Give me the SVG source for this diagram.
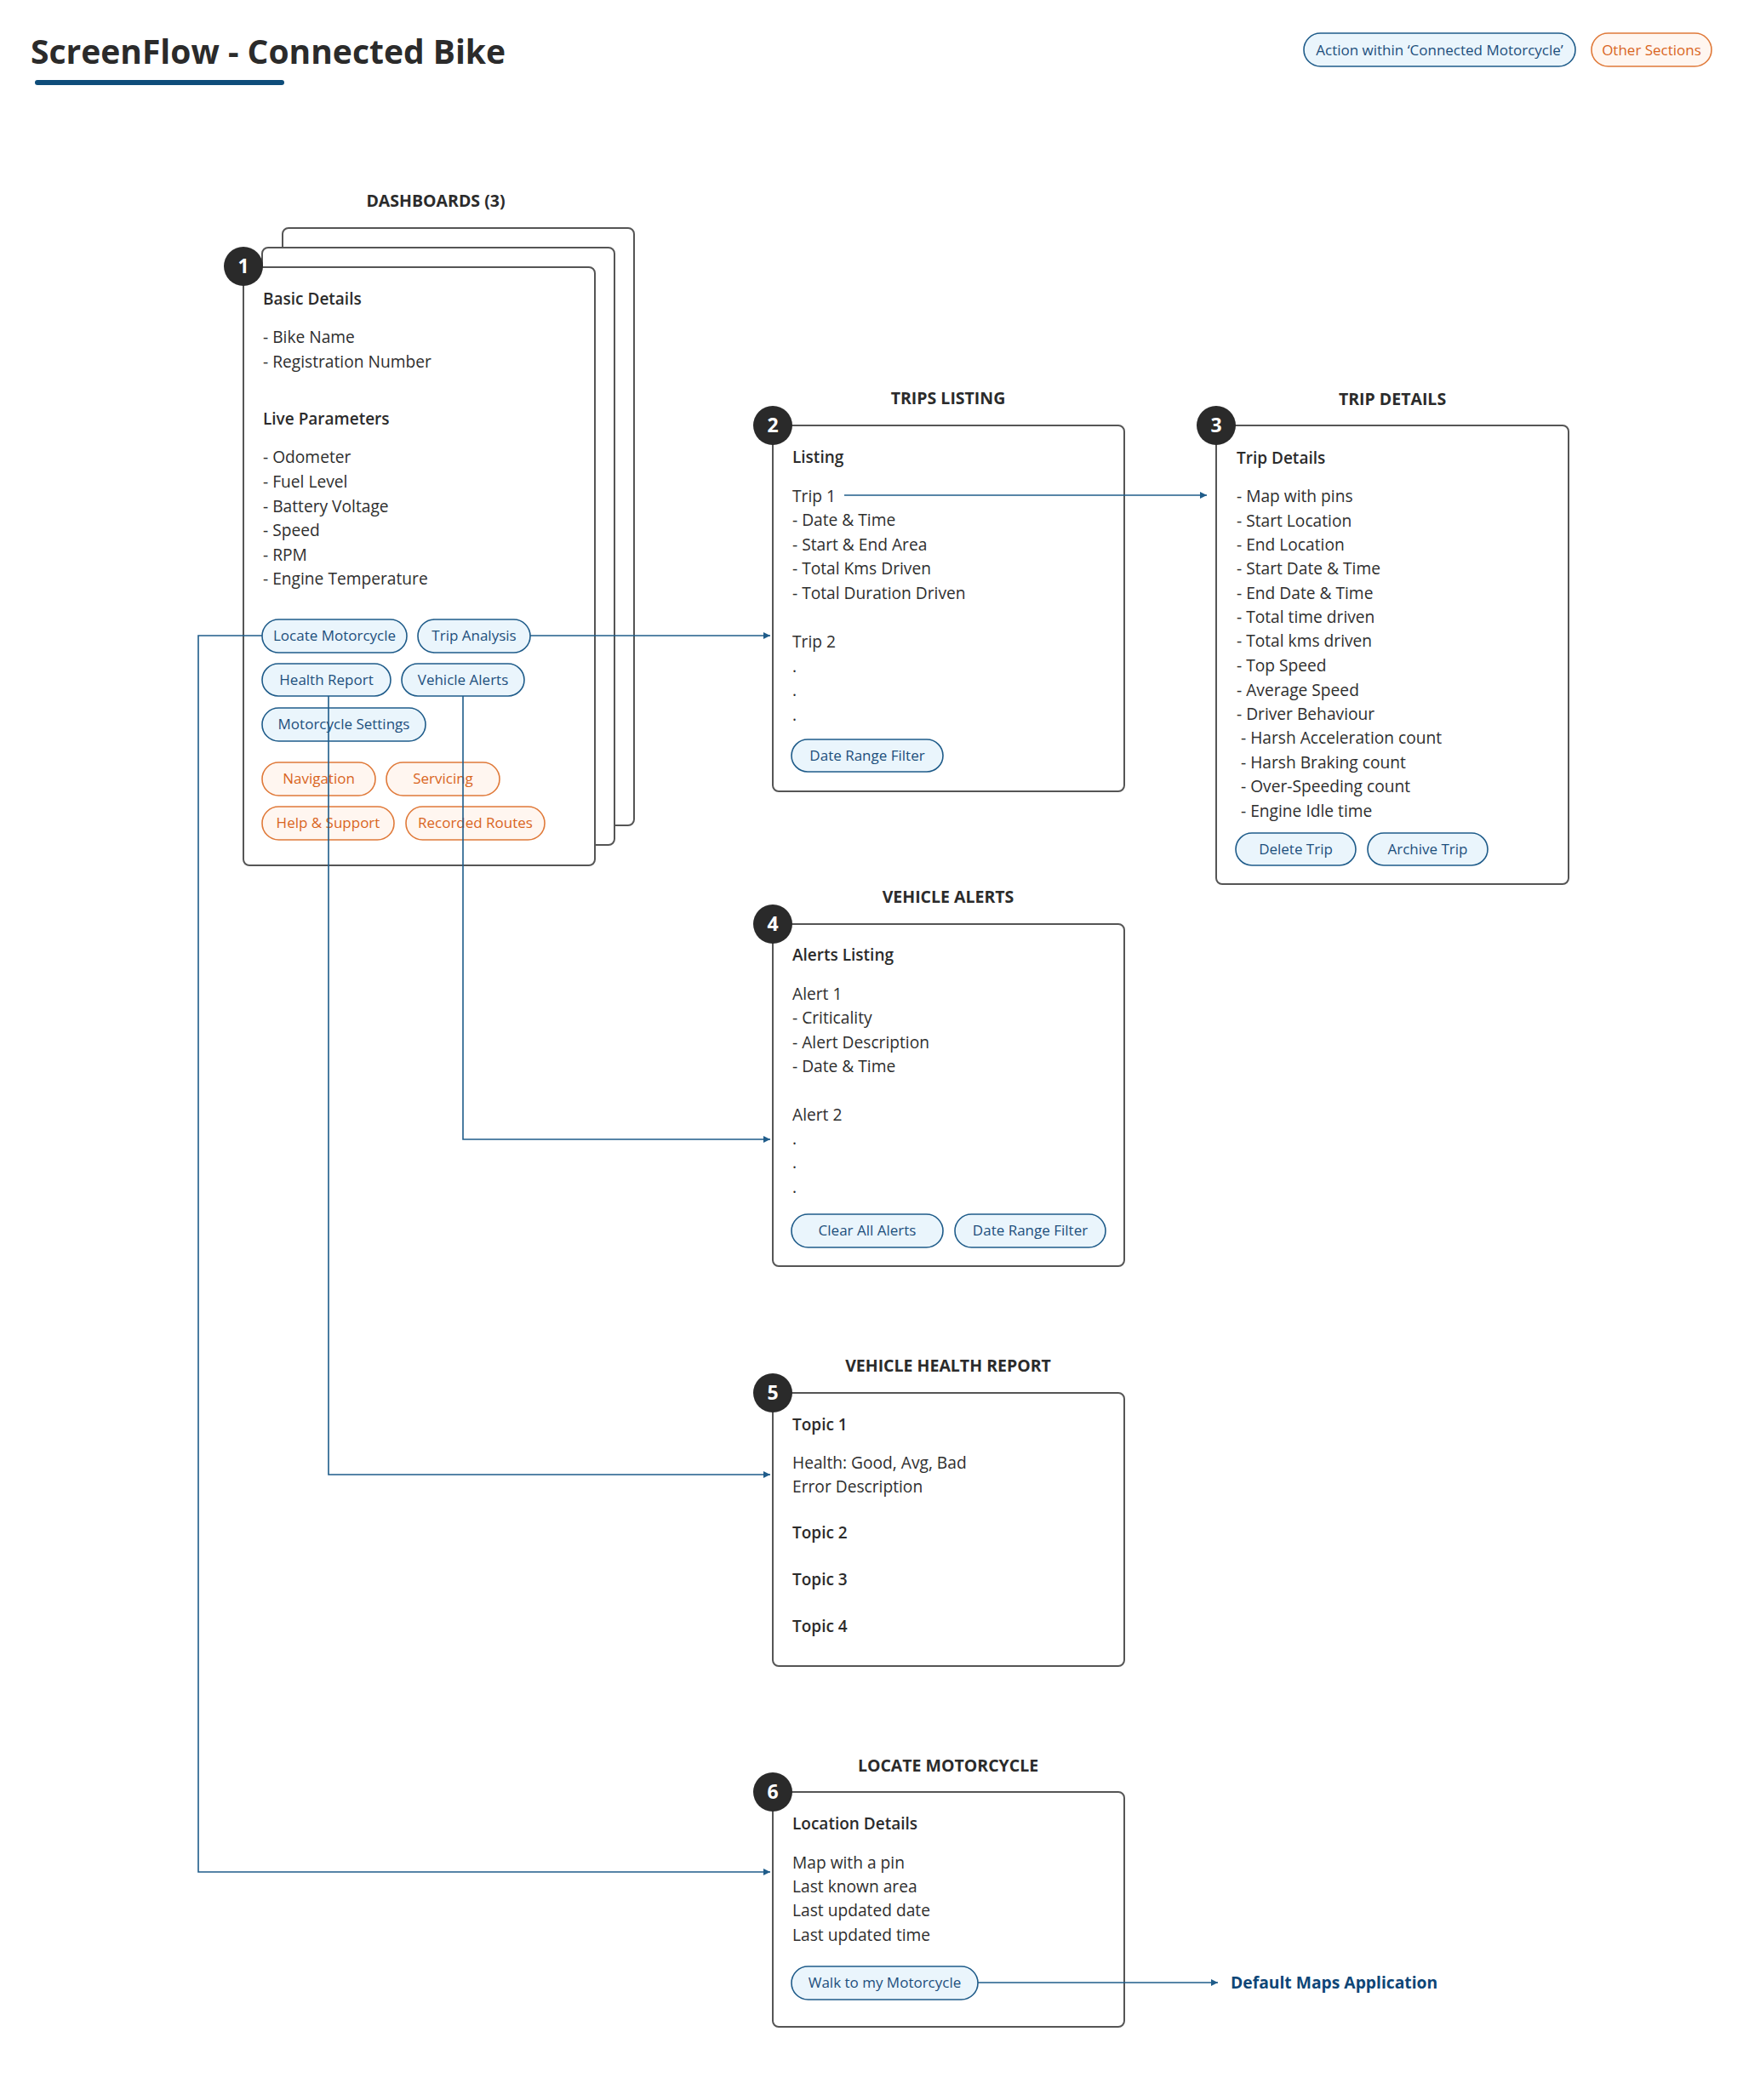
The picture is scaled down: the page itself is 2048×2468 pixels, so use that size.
<svg xmlns="http://www.w3.org/2000/svg" width="2048" height="2468" viewBox="0 0 2048 2468">
<defs>
<marker id="arr" markerUnits="userSpaceOnUse" markerWidth="10" markerHeight="8" refX="8" refY="4" orient="auto">
<path d="M0,0 L8,4 L0,8 Z" fill="#1f5c8a"/>
</marker>
<style>
text{font-family:"Open Sans","Noto Sans","Liberation Sans",sans-serif;fill:#333333}
.title{font-size:39px;font-weight:700;fill:#2b2b2b}
.sec{font-size:19.5px;font-weight:700;fill:#2b2b2b;text-anchor:middle}
.h{font-size:19px;font-weight:600;fill:#2b2b2b}
.t{font-size:19.2px;font-weight:400;fill:#2e2e2e}
.card{fill:#ffffff;stroke:#555555;stroke-width:2}
.badge{fill:#2a2a2a}
.bn{font-size:23px;font-weight:700;fill:#ffffff;text-anchor:middle}
.bb{fill:#eaf5fc;stroke:#1f5c8a;stroke-width:1.6}
.bo{fill:#fff6f0;stroke:#e07a3a;stroke-width:1.6}
.btb{font-size:17px;fill:#1d4f7c;text-anchor:middle}
.bto{font-size:17px;fill:#d9651e;text-anchor:middle}
.conn{fill:none;stroke:#1f5c8a;stroke-width:1.6}
.ext{font-size:19.3px;font-weight:700;fill:#0e4677}
</style>
</defs>
<rect width="2048" height="2468" fill="#ffffff"/>

<g id="header">
<text class="title" x="36" y="75">ScreenFlow - Connected Bike</text>
<line x1="44" y1="97" x2="331" y2="97" stroke="#0e4d7a" stroke-width="6" stroke-linecap="round"/>
</g>

<g id="legend">
<rect class="bb" x="1532" y="39" width="319" height="39" rx="19.5"/>
<text class="btb" x="1691.5" y="65">Action within ‘Connected Motorcycle’</text>
<rect class="bo" x="1870" y="39" width="141" height="39" rx="19.5"/>
<text class="bto" x="1940.5" y="65">Other Sections</text>
</g>

<g id="node1">
<text class="sec" x="512" y="243">DASHBOARDS (3)</text>
<rect class="card" x="332" y="268" width="413" height="702" rx="7"/>
<rect class="card" x="308" y="291" width="414" height="702" rx="7"/>
<rect class="card" x="286" y="314" width="413" height="703" rx="7"/>
<circle class="badge" cx="286" cy="313" r="23"/>
<text class="bn" x="286" y="321">1</text>
<text class="h" x="309" y="358">Basic Details</text>
<text class="t" x="309" y="403">- Bike Name</text>
<text class="t" x="309" y="432">- Registration Number</text>
<text class="h" x="309" y="499">Live Parameters</text>
<text class="t" x="309" y="544">- Odometer</text>
<text class="t" x="309" y="573">- Fuel Level</text>
<text class="t" x="309" y="602">- Battery Voltage</text>
<text class="t" x="309" y="630">- Speed</text>
<text class="t" x="309" y="659">- RPM</text>
<text class="t" x="309" y="687">- Engine Temperature</text>
<rect class="bb" x="308" y="728" width="170" height="39" rx="19.5"/>
<text class="btb" x="393" y="753">Locate Motorcycle</text>
<rect class="bb" x="491" y="728" width="132" height="39" rx="19.5"/>
<text class="btb" x="557" y="753">Trip Analysis</text>
<rect class="bb" x="308" y="780" width="151" height="38" rx="19"/>
<text class="btb" x="383.5" y="805">Health Report</text>
<rect class="bb" x="472" y="780" width="144" height="38" rx="19"/>
<text class="btb" x="544" y="805">Vehicle Alerts</text>
<rect class="bb" x="308" y="832" width="192" height="39" rx="19.5"/>
<text class="btb" x="404" y="857">Motorcycle Settings</text>
<rect class="bo" x="308" y="896" width="133" height="39" rx="19.5"/>
<text class="bto" x="374.5" y="921">Navigation</text>
<rect class="bo" x="454" y="896" width="133" height="39" rx="19.5"/>
<text class="bto" x="520.5" y="921">Servicing</text>
<rect class="bo" x="308" y="948" width="155" height="39" rx="19.5"/>
<text class="bto" x="385.5" y="973">Help &amp; Support</text>
<rect class="bo" x="477" y="948" width="163" height="39" rx="19.5"/>
<text class="bto" x="558.5" y="973">Recorded Routes</text>
</g>

<g id="node2">
<text class="sec" x="1114" y="475">TRIPS LISTING</text>
<rect class="card" x="908" y="500" width="413" height="430" rx="7"/>
<circle class="badge" cx="908" cy="500" r="23"/>
<text class="bn" x="908" y="508">2</text>
<text class="h" x="931" y="544">Listing</text>
<text class="t" x="931" y="590">Trip 1</text>
<text class="t" x="931" y="618">- Date &amp; Time</text>
<text class="t" x="931" y="647">- Start &amp; End Area</text>
<text class="t" x="931" y="675">- Total Kms Driven</text>
<text class="t" x="931" y="704">- Total Duration Driven</text>
<text class="t" x="931" y="761">Trip 2</text>
<text class="t" x="931" y="790">.</text>
<text class="t" x="931" y="818">.</text>
<text class="t" x="931" y="847">.</text>
<rect class="bb" x="930" y="869" width="178" height="38" rx="19"/>
<text class="btb" x="1019" y="894">Date Range Filter</text>
</g>

<g id="node3">
<text class="sec" x="1636" y="476">TRIP DETAILS</text>
<rect class="card" x="1429" y="500" width="414" height="539" rx="7"/>
<circle class="badge" cx="1429" cy="500" r="23"/>
<text class="bn" x="1429" y="508">3</text>
<text class="h" x="1453" y="545">Trip Details</text>
<text class="t" x="1453" y="590">- Map with pins</text>
<text class="t" x="1453" y="619">- Start Location</text>
<text class="t" x="1453" y="647">- End Location</text>
<text class="t" x="1453" y="675">- Start Date &amp; Time</text>
<text class="t" x="1453" y="704">- End Date &amp; Time</text>
<text class="t" x="1453" y="732">- Total time driven</text>
<text class="t" x="1453" y="760">- Total kms driven</text>
<text class="t" x="1453" y="789">- Top Speed</text>
<text class="t" x="1453" y="818">- Average Speed</text>
<text class="t" x="1453" y="846">- Driver Behaviour</text>
<text class="t" x="1458" y="874">- Harsh Acceleration count</text>
<text class="t" x="1458" y="903">- Harsh Braking count</text>
<text class="t" x="1458" y="931">- Over-Speeding count</text>
<text class="t" x="1458" y="960">- Engine Idle time</text>
<rect class="bb" x="1452" y="979" width="141" height="38" rx="19"/>
<text class="btb" x="1522.5" y="1004">Delete Trip</text>
<rect class="bb" x="1607" y="979" width="141" height="38" rx="19"/>
<text class="btb" x="1677.5" y="1004">Archive Trip</text>
</g>

<g id="node4">
<text class="sec" x="1114" y="1061">VEHICLE ALERTS</text>
<rect class="card" x="908" y="1086" width="413" height="402" rx="7"/>
<circle class="badge" cx="908" cy="1086" r="23"/>
<text class="bn" x="908" y="1094">4</text>
<text class="h" x="931" y="1129">Alerts Listing</text>
<text class="t" x="931" y="1175">Alert 1</text>
<text class="t" x="931" y="1203">- Criticality</text>
<text class="t" x="931" y="1232">- Alert Description</text>
<text class="t" x="931" y="1260">- Date &amp; Time</text>
<text class="t" x="931" y="1317">Alert 2</text>
<text class="t" x="931" y="1345">.</text>
<text class="t" x="931" y="1373">.</text>
<text class="t" x="931" y="1402">.</text>
<rect class="bb" x="930" y="1427" width="178" height="39" rx="19.5"/>
<text class="btb" x="1019" y="1452">Clear All Alerts</text>
<rect class="bb" x="1122" y="1427" width="177" height="39" rx="19.5"/>
<text class="btb" x="1210.5" y="1452">Date Range Filter</text>
</g>

<g id="node5">
<text class="sec" x="1114" y="1612">VEHICLE HEALTH REPORT</text>
<rect class="card" x="908" y="1637" width="413" height="321" rx="7"/>
<circle class="badge" cx="908" cy="1637" r="23"/>
<text class="bn" x="908" y="1645">5</text>
<text class="h" x="931" y="1681">Topic 1</text>
<text class="t" x="931" y="1726">Health: Good, Avg, Bad</text>
<text class="t" x="931" y="1754">Error Description</text>
<text class="h" x="931" y="1808">Topic 2</text>
<text class="h" x="931" y="1863">Topic 3</text>
<text class="h" x="931" y="1918">Topic 4</text>
</g>

<g id="node6">
<text class="sec" x="1114" y="2082">LOCATE MOTORCYCLE</text>
<rect class="card" x="908" y="2106" width="413" height="276" rx="7"/>
<circle class="badge" cx="908" cy="2106" r="23"/>
<text class="bn" x="908" y="2114">6</text>
<text class="h" x="931" y="2150">Location Details</text>
<text class="t" x="931" y="2196">Map with a pin</text>
<text class="t" x="931" y="2224">Last known area</text>
<text class="t" x="931" y="2252">Last updated date</text>
<text class="t" x="931" y="2281">Last updated time</text>
<rect class="bb" x="930" y="2311" width="219" height="39" rx="19.5"/>
<text class="btb" x="1039.5" y="2336">Walk to my Motorcycle</text>
</g>

<g id="external">
<text class="ext" x="1446" y="2337">Default Maps Application</text>
</g>

<g id="connectors">
<path class="conn" d="M308,747 H233 V2200 H905" marker-end="url(#arr)"/>
<path class="conn" d="M623,747 H905" marker-end="url(#arr)"/>
<path class="conn" d="M386,818 V1733 H905" marker-end="url(#arr)"/>
<path class="conn" d="M544,818 V1339 H905" marker-end="url(#arr)"/>
<path class="conn" d="M992,582 H1418" marker-end="url(#arr)"/>
<path class="conn" d="M1149,2330 H1431" marker-end="url(#arr)"/>
</g>
</svg>
